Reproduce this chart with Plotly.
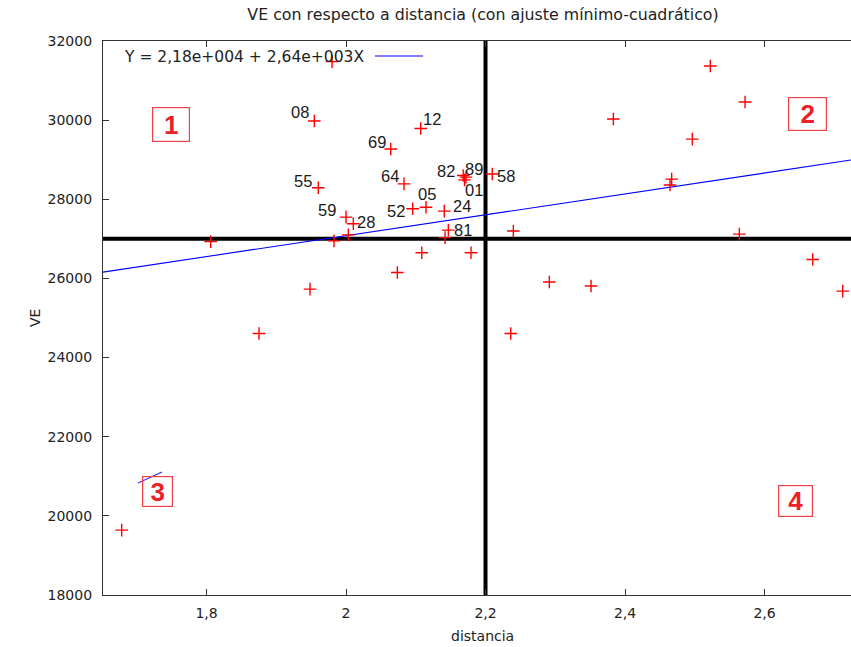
import plotly.graph_objects as go

# ---------------- data ----------------
distancia = [1.6784, 1.806, 1.8753, 1.9484, 1.9546, 1.9603, 1.9800, 1.9828, 2.0000, 2.0033,
             2.0105, 2.0641, 2.0736, 2.0832, 2.0956, 2.1071, 2.1086, 2.1147, 2.1409, 2.142,
             2.1467, 2.168, 2.172, 2.170, 2.1792, 2.2097, 2.2362, 2.2399, 2.2915, 2.3513,
             2.3833, 2.4645, 2.4669, 2.4965, 2.5223, 2.5639, 2.5721, 2.6691, 2.7121]
ve = [19640, 26930, 24610, 25730, 29980, 28290, 31480, 26950, 27550, 27100,
      27380, 29270, 26150, 28390, 27760, 29790, 26650, 27800, 27700, 27030,
      27220, 28600, 28560, 28490, 26650, 28640, 24610, 27200, 25910, 25810,
      30030, 28360, 28510, 29520, 31370, 27120, 30460, 26480, 25680]
etiquetas = ["", "", "", "", "08", "55", "", "", "59", "",
             "28", "69", "", "64", "52", "12", "", "05", "24", "",
             "81", "82", "89", "01", "", "58", "", "", "", "",
             "", "", "", "", "", "", "", "", ""]

# label offsets in screen pixels (style: dx right, dy down) keyed by label
desplazamiento = {
    "08": (-14, -8), "55": (-15, -6), "59": (-19, -6), "28": (13, -1),
    "69": (-14, -6), "64": (-14, -7), "52": (-17, 3), "12": (11, -8),
    "05": (1, -12), "24": (18, -4), "81": (15, 1), "82": (-17, -4),
    "89": (8, -7), "01": (9, 11), "58": (14, 3),
}

INTERCEPTO = 2.18e4
PENDIENTE = 2.64e3
LEYENDA = "Y = 2,18e+004 + 2,64e+003X"

X_RANGO = [1.6516, 2.724]
Y_RANGO = [18000, 32000]
DIST_REF = 2.2
VE_REF = 27000

x_ticks = [1.8, 2.0, 2.2, 2.4, 2.6]
x_ticktext = ["1,8", "2", "2,2", "2,4", "2,6"]
y_ticks = [18000, 20000, 22000, 24000, 26000, 28000, 30000, 32000]
y_ticktext = ["18000", "20000", "22000", "24000", "26000", "28000", "30000", "32000"]

cuadrantes = ["1", "2", "3", "4"]

# ---------------- figure ----------------
ajuste_x = X_RANGO
ajuste_y = [INTERCEPTO + PENDIENTE * v for v in ajuste_x]

fig = go.Figure()
fig.add_trace(go.Scatter(
    x=ajuste_x, y=ajuste_y, mode="lines",
    line=dict(color="#0000ff", width=1.1), showlegend=False, hoverinfo="skip"))
fig.add_trace(go.Scatter(
    x=distancia, y=ve, mode="markers",
    marker=dict(symbol="cross-thin", size=9, line=dict(color="#ff0000", width=1.4)),
    showlegend=False))

AX = "#333333"
TICKFONT = dict(family="DejaVu Sans", size=14, color="#222222")

fig.update_xaxes(range=X_RANGO, tickvals=x_ticks, ticktext=x_ticktext,
                 ticks="inside", ticklen=6, tickwidth=1.2, tickcolor=AX,
                 showline=True, linecolor=AX, linewidth=1.3, mirror="ticks",
                 showgrid=False, zeroline=False, tickfont=TICKFONT, ticklabelstandoff=5)
fig.update_yaxes(range=Y_RANGO, tickvals=y_ticks, ticktext=y_ticktext,
                 ticks="inside", ticklen=6, tickwidth=1.2, tickcolor=AX,
                 showline=True, linecolor=AX, linewidth=1.3, mirror=False,
                 showgrid=False, zeroline=False, tickfont=TICKFONT, ticklabelstandoff=7)

shapes = [
    dict(type="line", xref="paper", yref="y", x0=0, x1=1, y0=VE_REF, y1=VE_REF,
         line=dict(color="black", width=4), layer="below"),
    dict(type="line", xref="x", yref="paper", x0=DIST_REF, x1=DIST_REF, y0=0, y1=1,
         line=dict(color="black", width=4), layer="below"),
    # legend line sample
    dict(type="line", xref="paper", yref="paper", x0=0.3636, x1=0.4278, y0=0.9729, y1=0.9729,
         line=dict(color="#0000ff", width=1.1)),
    # small stray blue stroke near box 3
    dict(type="line", xref="paper", yref="paper", x0=0.0468, x1=0.0789, y0=0.2022, y1=0.222,
         line=dict(color="#3030ff", width=1.2)),
]

annotations = []
# point labels
for xv, yv, lab in zip(distancia, ve, etiquetas):
    if not lab:
        continue
    dx, dy = desplazamiento[lab]
    annotations.append(dict(
        x=xv, y=yv, xref="x", yref="y", text=lab, showarrow=False,
        xanchor="center", yanchor="middle", xshift=dx, yshift=-dy + 1,
        font=dict(family="Liberation Sans, Arial", size=16.5, color="#1a1a1a")))

RED = "#ec2027"
box_pos = [(0.0909, 0.8484, 36, 33), (0.9425, 0.868, 37, 32),
           (0.0733, 0.1877, 29, 29), (0.9258, 0.1697, 33, 30)]
for lab, (px, py, w, h) in zip(cuadrantes, box_pos):
    annotations.append(dict(
        xref="paper", yref="paper", x=px, y=py, text="<b>%s</b>" % lab, showarrow=False,
        font=dict(family="Liberation Sans, Arial", size=26, color=RED),
        bordercolor="#f04048", borderwidth=1.2, borderpad=0, width=w, height=h,
        bgcolor="rgba(255,255,255,0)", xanchor="center", yanchor="middle"))

annotations += [
    dict(xref="paper", yref="paper", x=0.0255, y=0.9711, text=LEYENDA, showarrow=False,
         xanchor="left", yanchor="middle",
         font=dict(family="DejaVu Sans", size=15.5, color="#222222")),
    dict(xref="paper", yref="paper", x=-0.0909, y=0.5, text="VE", showarrow=False,
         textangle=-90, xanchor="center", yanchor="middle",
         font=dict(family="DejaVu Sans", size=14, color="#222222")),
    dict(xref="paper", yref="paper", x=0.5067, y=-0.074, text="distancia", showarrow=False,
         xanchor="center", yanchor="middle",
         font=dict(family="DejaVu Sans", size=14, color="#222222")),
]

fig.update_layout(
    width=851, height=647,
    margin=dict(l=103, r=0, t=41, b=52),
    paper_bgcolor="white", plot_bgcolor="white",
    title=dict(text="VE con respecto a distancia (con ajuste mínimo-cuadrático)",
               x=0.5676, xanchor="center", y=0.977, yanchor="middle",
               font=dict(family="DejaVu Sans", size=15.8, color="#222222")),
    shapes=shapes, annotations=annotations,
)

fig.write_html("out.html")
